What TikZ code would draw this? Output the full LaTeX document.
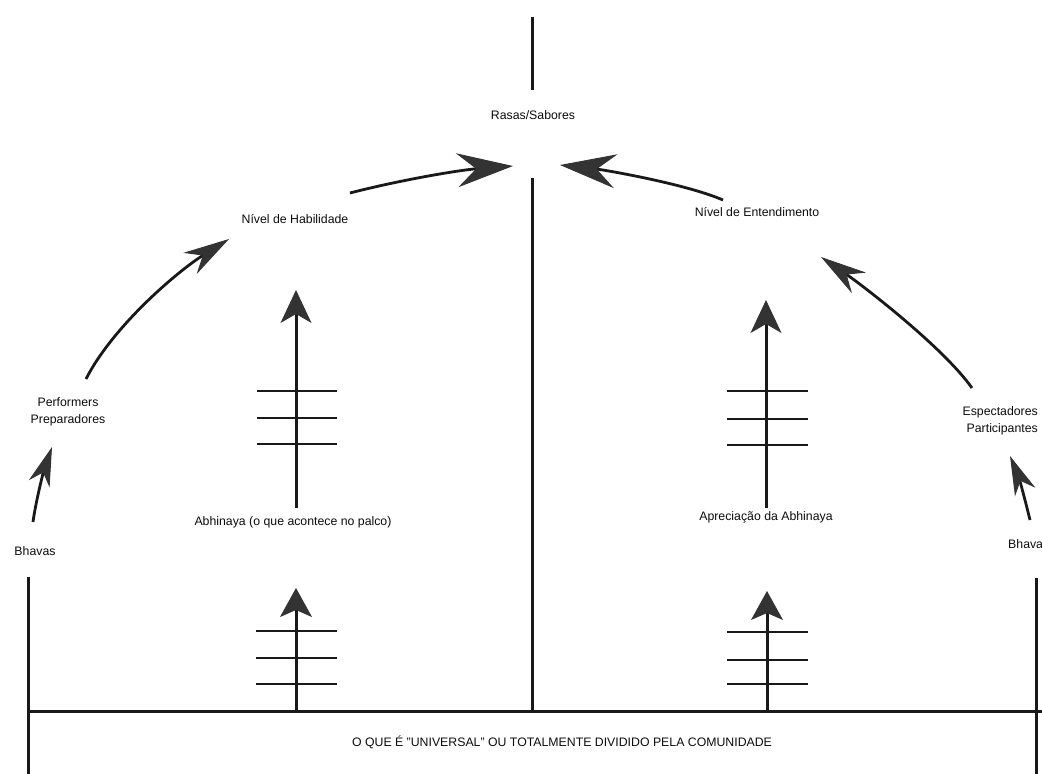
\documentclass[tikz,border=0pt]{standalone}
\usepackage{fontspec}
\setmainfont{Liberation Sans}
\usetikzlibrary{arrows.meta}
\begin{document}
\begin{tikzpicture}[x=1pt,y=-1pt,
  lbl/.style={font=\fontsize{12.3}{17}\selectfont, inner sep=0pt, text=black!95},
  ln/.style={line width=3pt, draw=black!90},
  cv/.style={line width=2.8pt, draw=black!90},
  tick/.style={line width=2.8pt, draw=black!90},
  bigarrow/.style={-{Stealth[length=56pt,width=34pt,inset=19pt,line width=1pt,color=black!80,fill=black!80]}},
  midarrow/.style={-{Stealth[length=46pt,width=25pt,inset=15pt,line width=1pt,color=black!80,fill=black!80]}},
  smallarrow/.style={-{Stealth[length=39pt,width=22pt,inset=12pt,line width=1pt,color=black!80,fill=black!80]}},
  varrow/.style={-{Stealth[length=33pt,width=31pt,inset=9pt,line width=1pt,color=black!80,fill=black!80]}},
  varrowlow/.style={-{Stealth[length=29pt,width=32pt,inset=7pt,line width=1pt,color=black!80,fill=black!80]}}]
\fill[white] (0,0) rectangle (1042,774);
\useasboundingbox (0,0) rectangle (1042,774);

% labels
\node[lbl] (rasas) at (533,115) {Rasas/Sabores};
\node[lbl] (hab) at (295,219) {Nível de Habilidade};
\node[lbl] (ent) at (757,212) {Nível de Entendimento};
\node[lbl,align=center] (perf) at (68,412) {Performers\\Preparadores};
\node[lbl,align=right,anchor=east] (espec) at (1038,421) {Espectadores\hspace{5pt}\\Participantes};
\node[lbl] (bhavL) at (35,551) {Bhavas};
\node[lbl,anchor=west] (bhavR) at (1008,544) {Bhava};
\node[lbl] (abh) at (293,522) {Abhinaya (o que acontece no palco)};
\node[lbl] (apr) at (766,517) {Apreciação da Abhinaya};
\node[lbl] (univ) at (562,742) {O QUE É "UNIVERSAL" OU TOTALMENTE DIVIDIDO PELA COMUNIDADE};

% free ends
\coordinate (topA) at (532,17);
\coordinate (topB) at (532,90);
\coordinate (midA) at (532,178);
\coordinate (midB) at (532,711);
\coordinate (frL0) at (28,577);
\coordinate (frL1) at (28,774);
\coordinate (frR0) at (1036,578);
\coordinate (frR1) at (1036,774);
\coordinate (base0) at (28,711);
\coordinate (base1) at (1042,711);

\coordinate (c1s) at (86,379);
\coordinate (c1e) at (229,239);
\coordinate (c2s) at (350,193);
\coordinate (c2e) at (513,166);
\coordinate (c3s) at (972,388);
\coordinate (c3e) at (821,257);
\coordinate (c4s) at (723,200);
\coordinate (c4e) at (560,165);
\coordinate (s1s) at (33,522);
\coordinate (s1e) at (52,447);
\coordinate (s2s) at (1030,520);
\coordinate (s2e) at (1010,456);

\coordinate (vL1e) at (296,290);
\coordinate (vR1e) at (766,300);
\coordinate (vL2s) at (296,711);
\coordinate (vL2e) at (296,588);
\coordinate (vR2s) at (767,711);
\coordinate (vR2e) at (767,591);

% structure lines
\draw[ln] (topA) -- (topB);
\draw[ln] (midA) -- (midB);
\draw[ln] (frL0) -- (frL1);
\draw[ln] (frR0) -- (frR1);
\draw[ln] (base0) -- (base1);

% ticks
\foreach \y in {391,418,444} \draw[tick] (257,\y) -- (337,\y);
\foreach \y in {391,419,445} \draw[tick] (727,\y) -- (808,\y);
\foreach \y in {631,658,684} \draw[tick] (256,\y) -- (337,\y);
\foreach \y in {632,660,684} \draw[tick] (727,\y) -- (808,\y);

% vertical arrows
\draw[ln,varrow] (abh.north -| vL1e) ++(0,-8) -- (vL1e);
\draw[ln,varrow] (apr.north -| vR1e) ++(0,-3) -- (vR1e);
\draw[ln,varrowlow] (vL2s) -- (vL2e);
\draw[ln,varrowlow] (vR2s) -- (vR2e);

% curved arrows
\draw[cv,midarrow] (c1s) .. controls (113,326) and (178,271) .. (c1e);
\draw[cv,bigarrow] (c2s) .. controls (400,180) and (460,170) .. (c2e);
\draw[cv,midarrow] (c3s) .. controls (943,347) and (862,285) .. (c3e);
\draw[cv,bigarrow] (c4s) .. controls (686,184) and (605,170) .. (c4e);
\draw[cv,smallarrow] (s1s) .. controls (36,500) and (44,470) .. (s1e);
\draw[cv,smallarrow] (s2s) .. controls (1024,495) and (1018,475) .. (s2e);
\end{tikzpicture}
\end{document}
